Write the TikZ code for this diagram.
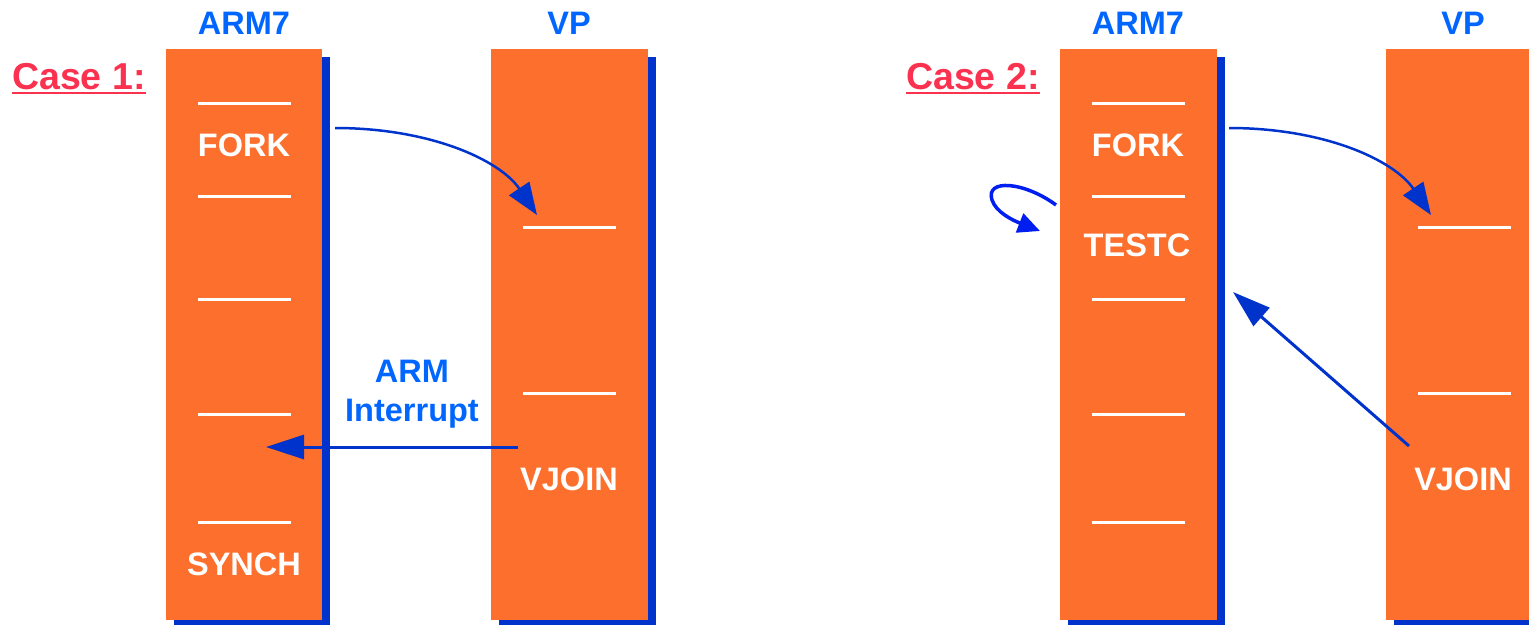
\documentclass[tikz,border=0pt]{standalone}
\usepackage{fontspec}
\setmainfont{Liberation Sans}
\usetikzlibrary{positioning, shadows, arrows.meta}

\definecolor{colorange}{RGB}{252,111,44}
\definecolor{colshadow}{RGB}{0,51,204}
\definecolor{colhead}{RGB}{0,102,255}
\definecolor{colcase}{RGB}{250,50,80}
\definecolor{colloop}{RGB}{0,30,240}

\newcommand{\lblfont}{\fontsize{32.5}{39}\selectfont\bfseries}

\begin{document}
\begin{tikzpicture}[x=1pt, y=-1pt, on grid,
  column/.style={rectangle, fill=colorange, minimum width=156pt, minimum height=571pt, inner sep=0pt,
    drop shadow={shadow xshift=8pt, shadow yshift=-8pt, fill=colshadow, opacity=1}},
  head/.style={text=colhead, font=\lblfont, inner sep=0pt},
  op/.style={text=white, font=\lblfont, inner sep=0pt},
  casetext/.style={text=colcase, font=\fontsize{37.5}{40}\selectfont\bfseries, inner sep=0pt, anchor=base west},
  sep/.style={white, line width=3pt},
  conn/.style={colshadow, line width=3pt, -{Triangle[length=38pt, width=24pt]}},
  forkconn/.style={colshadow, line width=2.5pt, -{Triangle[length=32pt, width=24pt]}}]
  \useasboundingbox (0,0) rectangle (1529,624);

  % columns
  \node[column] (arm1) at (244,334.5) {};
  \node[column, minimum width=157pt] (vp1) [right=325.5pt of arm1] {};
  \node[column, minimum width=157pt] (arm2) [right=894.5pt of arm1] {};
  \node[column, minimum width=157pt] (vp2) [right=326pt of arm2] {};

  \node[head, anchor=base] (arm1h) at (244,34) {ARM7};
  \node[head, anchor=base] (vp1h) at (569,34) {VP};
  \node[head, anchor=base] (arm2h) at (1138,34) {ARM7};
  \node[head, anchor=base] (vp2h) at (1463,34) {VP};

  \node[casetext] (case1) at (12,89) {Case 1:};
  \node[casetext] (case2) at (906,89) {Case 2:};
  \draw[colcase, line width=2.5pt] ([yshift=-4pt]case1.base west) -- ([yshift=-4pt]case1.base east);
  \draw[colcase, line width=2.5pt] ([yshift=-4pt]case2.base west) -- ([yshift=-4pt]case2.base east);

  % separators
  \foreach \y in {103,196,299,414,522} {
    \draw[sep] (198,\y) -- (291,\y);
    \draw[sep] (1092,\y) -- (1185,\y);
  }
  \foreach \y in {227,393} {
    \draw[sep] (523,\y) -- (616,\y);
    \draw[sep] (1418,\y) -- (1511,\y);
  }

  \node[op] (fork1) at (244,145) {FORK};
  \node[op] (synch1) at (244,564.5) {SYNCH};
  \node[op] (vjoin1) at (569,479) {VJOIN};
  \node[op] (fork2) at (1138,145) {FORK};
  \node[op] (testc2) at (1137,245) {TESTC};
  \node[op] (vjoin2) at (1463,479) {VJOIN};

  % case 1
  \coordinate (f1a) at (335,128);
  \coordinate (f1b) at (537,215);
  \draw[forkconn] (f1a) .. controls (430,128) and (500,160) .. (f1b);
  \coordinate (irqa) at (518,447);
  \coordinate (irqb) at (266,447);
  \draw[conn] (irqa) -- (irqb);
  \node[head, align=center, anchor=north] (irq) at (412,360) {ARM\\Interrupt};

  % case 2
  \coordinate (f2a) at (1229,128);
  \coordinate (f2b) at (1431,215);
  \draw[forkconn] (f2a) .. controls (1324,128) and (1394,160) .. (f2b);
  \coordinate (la) at (1056,205);
  \coordinate (lb) at (1040,231);
  \draw[colloop, line width=3.5pt, -{Triangle[length=22pt, width=20pt]}]
    (la) .. controls (1025,182) and (985,178) .. (992,200)
    .. controls (996,212) and (1012,220) .. (lb);
  \coordinate (ja) at (1409,446);
  \coordinate (jb) at (1233,292);
  \draw[conn] (ja) -- (jb);
\end{tikzpicture}
\end{document}
